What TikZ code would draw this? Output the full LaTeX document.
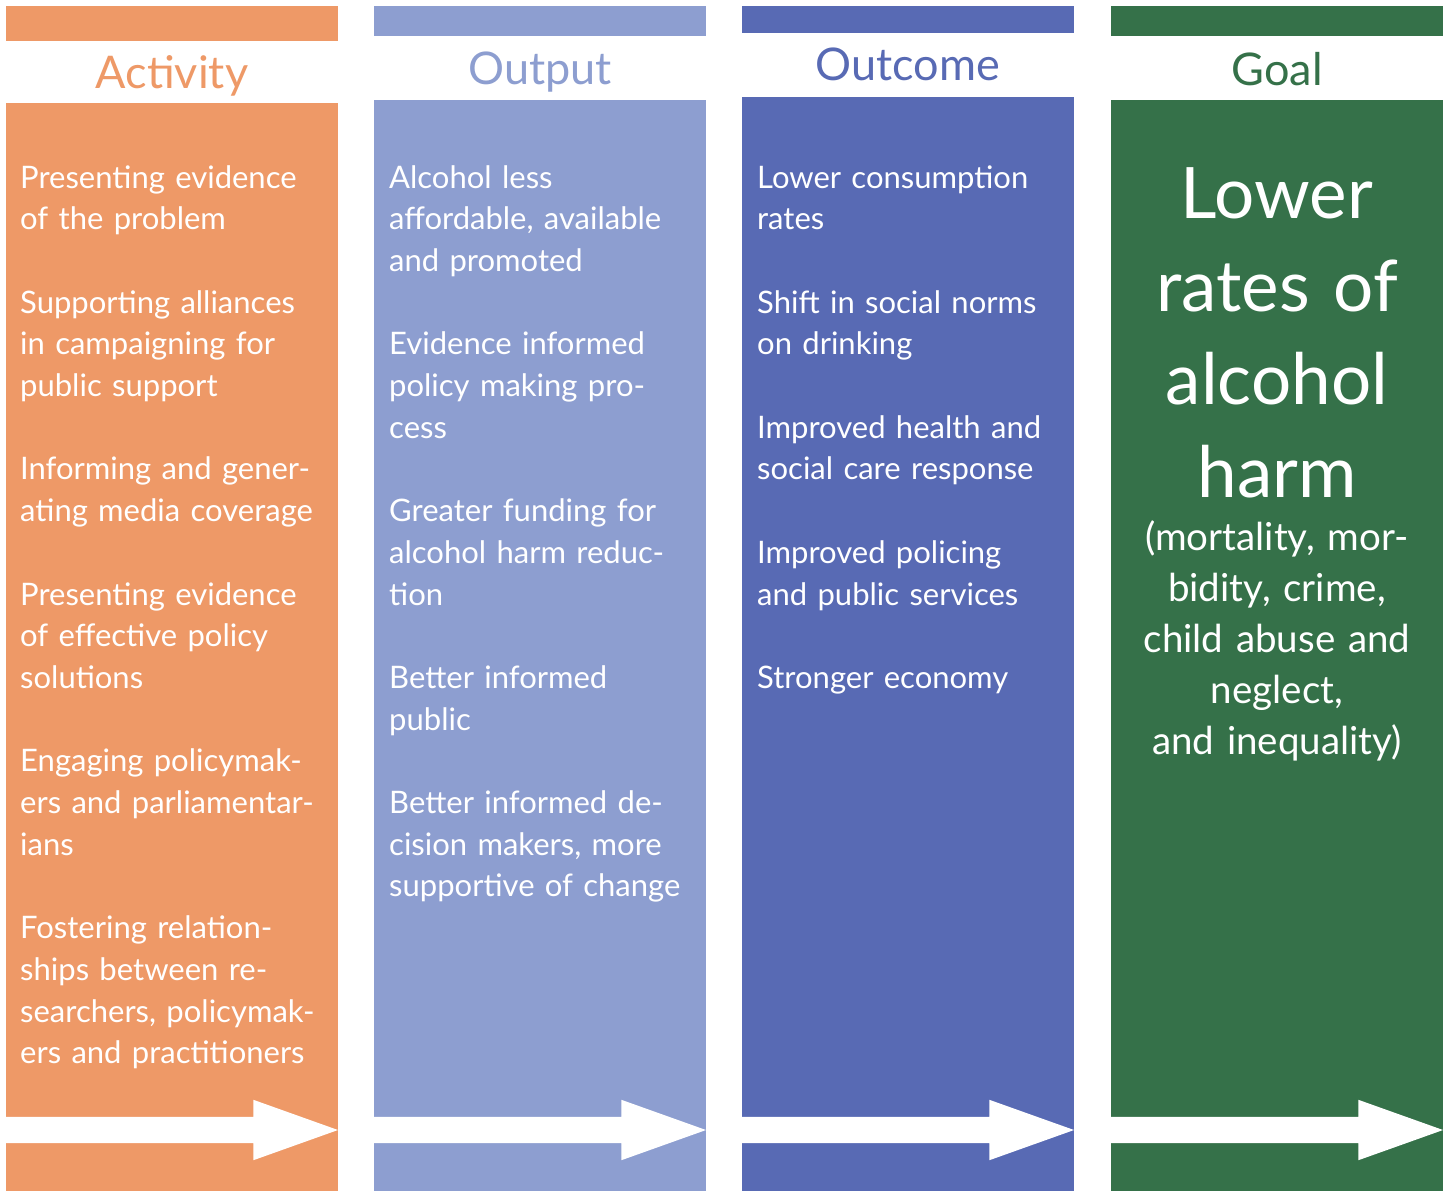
\documentclass[tikz,border=0pt]{standalone}
\usepackage{fontspec}
\setmainfont{Lato}
\usepackage{tikz}
\usetikzlibrary{shapes.arrows}

\definecolor{actorange}{RGB}{238,153,103}
\definecolor{outputblue}{RGB}{141,158,208}
\definecolor{outcomeblue}{RGB}{88,106,180}
\definecolor{goalgreen}{RGB}{53,113,73}

\tikzstyle{colbody} = [rectangle, inner sep=0pt, outer sep=0pt,
    minimum width=332pt, anchor=south west]
\tikzstyle{topbar} = [rectangle, inner sep=0pt, outer sep=0pt,
    minimum width=332pt, anchor=north west]
\tikzstyle{heading} = [anchor=base, inner sep=0pt,
    font=\fontsize{45}{50}\selectfont]
\tikzstyle{itemlist} = [anchor=base west, inner sep=0pt, text width=318pt,
    align=left, text=white, font=\fontsize{31}{41.7}\selectfont]
\tikzstyle{goaltext} = [anchor=base, inner sep=0pt, text width=330pt,
    align=center, text=white]
\tikzstyle{flowarrow} = [single arrow, fill=white, draw=none, inner xsep=0pt,
    inner ysep=13pt, outer sep=0pt, minimum height=332pt, minimum width=60pt,
    single arrow head extend=17pt, single arrow tip angle=39.3, anchor=east]

\newcommand{\itemgap}{\\[41.7pt]}

\begin{document}
\begin{tikzpicture}[x=1pt, y=-1pt]
            \useasboundingbox (0,0) rectangle (1453,1192);
            \fill[white] (0,0) rectangle (1453,1192);
            % Columns
            \node[colbody, fill=actorange, minimum height=1088pt] (actbody) at (6,1191) {};
            \node[colbody, fill=outputblue, minimum height=1091pt] (outbody) at (374,1191) {};
            \node[colbody, fill=outcomeblue, minimum height=1094pt] (ocbody) at (742,1191) {};
            \node[colbody, fill=goalgreen, minimum height=1091pt] (goalbody) at (1111,1191) {};
            % Bars over the headings
            \node[topbar, fill=actorange, minimum height=35pt] (actbar) at (6,6) {};
            \node[topbar, fill=outputblue, minimum height=30pt] (outbar) at (374,6) {};
            \node[topbar, fill=outcomeblue, minimum height=27pt] (ocbar) at (742,6) {};
            \node[topbar, fill=goalgreen, minimum height=30pt] (goalbar) at (1111,6) {};
            % Headings
            \node[heading, text=actorange] (acthead) at (172,88) {Activity};
            \node[heading, text=outputblue] (outhead) at (540,84) {Output};
            \node[heading, text=outcomeblue] (ochead) at (908,80) {Outcome};
            \node[heading, text=goalgreen] (goalhead) at (1277,85) {Goal};
            % Items
            \node[itemlist] (acttext) at (20,188) {Presenting evidence\\of the problem\itemgap
                Supporting alliances\\in campaigning for\\public support\itemgap
                Informing and gener-\\ating media coverage\itemgap
                Presenting evidence\\of effective policy\\solutions\itemgap
                Engaging policymak-\\ers and parliamentar-\\ians\itemgap
                Fostering relation-\\ships between re-\\searchers, policymak-\\ers and practitioners};
            \node[itemlist] (outtext) at (389,188) {Alcohol less\\affordable, available\\and promoted\itemgap
                Evidence informed\\policy making pro-\\cess\itemgap
                Greater funding for\\alcohol harm reduc-\\tion\itemgap
                Better informed\\public\itemgap
                Better informed de-\\cision makers, more\\supportive of change};
            \node[itemlist] (octext) at (757,188) {Lower consumption\\rates\itemgap
                Shift in social norms\\on drinking\itemgap
                Improved health and\\social care response\itemgap
                Improved policing\\and public services\itemgap
                Stronger economy};
            \node[goaltext, font=\fontsize{71}{93}\selectfont] (goalmain) at (1277,218)
            {Lower\\rates of\\alcohol\\harm};
            \node[goaltext, font=\fontsize{38.5}{51}\selectfont] (goalnote) at (1277,550)
            {(mortality, mor-\\bidity, crime,\\child abuse and\\neglect,\\and inequality)};
            % Arrows
            \node[flowarrow] (actarrow) at (actbody.east |- 0,1130) {};
            \node[flowarrow] (outarrow) at (outbody.east |- 0,1130) {};
            \node[flowarrow] (ocarrow) at (ocbody.east |- 0,1130) {};
            \node[flowarrow] (goalarrow) at (goalbody.east |- 0,1130) {};

        \end{tikzpicture}
\end{document}
